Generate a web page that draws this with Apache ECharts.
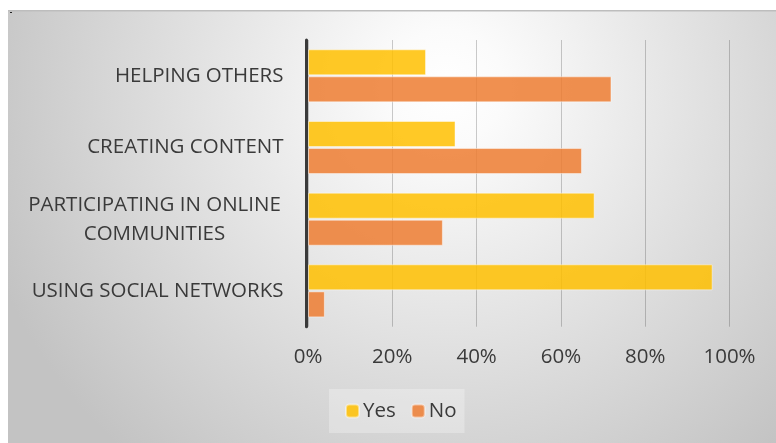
<!DOCTYPE html>
<html><head><meta charset="utf-8">
<script src="https://cdn.jsdelivr.net/npm/echarts@6/dist/echarts.min.js"></script>
<style>html,body{margin:0;padding:0;background:#fff;}#c{width:776px;height:443px;}</style>
</head><body><div id="c"></div>
<script>
const categories = ['HELPING OTHERS', 'CREATING CONTENT', 'PARTICIPATING IN ONLINE\nCOMMUNITIES', 'USING SOCIAL NETWORKS'];
const yesValues = [28, 35, 68, 96];
const noValues = [72, 65, 32, 4];
const xTicks = [0, 20, 40, 60, 80, 100];

const chart = echarts.init(document.getElementById('c'), null, {renderer: 'canvas'});
const font = '"Open Sans", sans-serif';
const txt = '#3a3a3a';
chart.setOption({
  animation: false,
  backgroundColor: '#ffffff',
  graphic: [
    {type: 'rect', z: -10, silent: true, shape: {x: 8, y: 10, width: 768, height: 433},
      style: {fill: {type: 'radial', x: 0.57, y: 0.18, r: 1.12,
        colorStops: [{offset: 0, color: '#ffffff'}, {offset: 0.12, color: '#fbfbfb'}, {offset: 1, color: '#c3c3c3'}]}}},
    {type: 'rect', z: -9, silent: true, shape: {x: 8, y: 10, width: 768, height: 1.5}, style: {fill: '#bdbdbd'}},
    {type: 'rect', z: -9, silent: true, shape: {x: 10, y: 12, width: 2, height: 1}, style: {fill: '#222'}}
  ],
  grid: {left: 308, right: 46.5, top: 40, bottom: 116.3, containLabel: false},
  legend: {
    data: ['Yes', 'No'], left: 329, top: 389, orient: 'horizontal',
    backgroundColor: 'rgba(255,255,255,0.28)', padding: [10, 8, 10, 16],
    itemWidth: 13, itemHeight: 13, itemGap: 15,
    textStyle: {fontFamily: font, fontSize: 20.5, color: txt, lineHeight: 24, padding: [0, 0, 0, -1]}
  },
  xAxis: {
    type: 'value', min: 0, max: 100, interval: 20,
    axisLine: {show: false}, axisTick: {show: false},
    splitLine: {show: true, lineStyle: {color: 'rgba(0,0,0,0.2)', width: 1}},
    axisLabel: {margin: 20, fontFamily: font, fontSize: 20.5, color: txt, formatter: v => xTicks.includes(v) ? v + '%' : ''}
  },
  yAxis: {
    type: 'category', inverse: true, data: categories, offset: 1.5, z: 10,
    axisLine: {show: true, onZero: false, lineStyle: {color: '#3a3a3a', width: 3}},
    axisTick: {show: false},
    axisLabel: {
      margin: 23, fontFamily: font, fontSize: 20.5, color: txt, lineHeight: 29,
      formatter: v => v.includes('\n') ? v.split('\n').map(s => '{m|' + s + '}').join('\n') : v,
      rich: {m: {width: 258, align: 'center', fontFamily: font, fontSize: 20.5, color: txt, lineHeight: 29}}
    }
  },
  series: [
    {name: 'Yes', type: 'bar', data: yesValues, barWidth: 26, barGap: '4%',
      itemStyle: {color: 'rgba(255,192,0,0.85)', borderColor: 'rgba(255,255,255,0.45)', borderWidth: 1}},
    {name: 'No', type: 'bar', data: noValues, barWidth: 26,
      itemStyle: {color: 'rgba(237,125,49,0.85)', borderColor: 'rgba(255,255,255,0.45)', borderWidth: 1}}
  ]
});
</script></body></html>
